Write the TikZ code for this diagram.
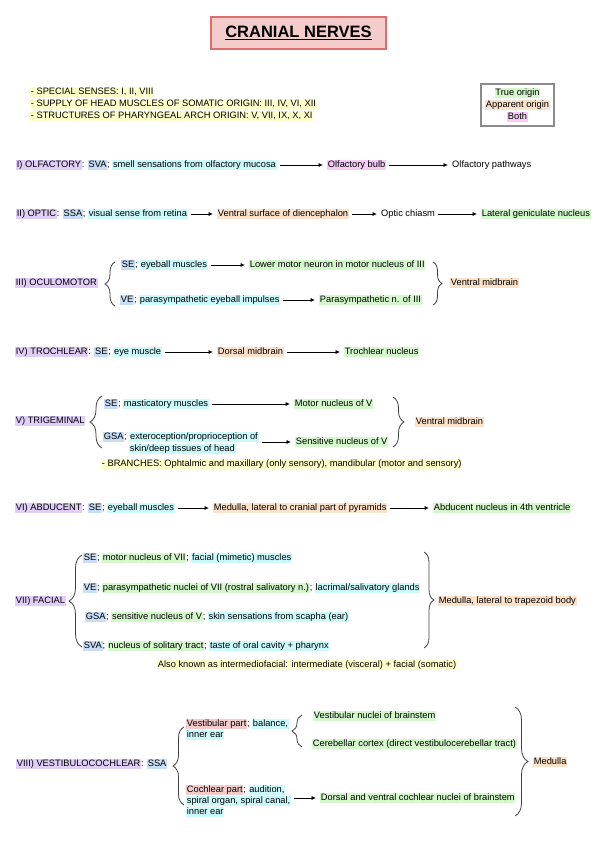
\documentclass[tikz,border=0pt]{standalone}
\usepackage{fontspec}
\setmainfont{Liberation Sans}
\usepackage{xcolor}
\usepackage{tikz}
\usetikzlibrary{arrows.meta,decorations.pathreplacing}
\definecolor{nervepu}{RGB}{224,206,248}
\definecolor{bothpk}{RGB}{245,204,245}
\definecolor{typebl}{RGB}{200,222,246}
\definecolor{funccy}{RGB}{204,250,252}
\definecolor{truegr}{RGB}{212,248,204}
\definecolor{apporg}{RGB}{252,226,202}
\definecolor{noteyl}{RGB}{255,255,204}
\definecolor{partrd}{RGB}{244,204,204}
\definecolor{titlebd}{RGB}{220,110,110}
\newcommand{\hlbox}[2]{{\setlength{\fboxsep}{0.7pt}\colorbox{#1}{\rule[-1.9pt]{0pt}{8.6pt}#2}}}
\newcommand{\titleul}[1]{\setbox0\hbox{#1}\rlap{\rule[-2.8pt]{\wd0}{1.6pt}}\box0}

\begin{document}
\begin{tikzpicture}[x=1pt,y=-1pt,
    every node/.style={font=\fontsize{9.3}{11.5}\selectfont,inner sep=0pt},
    ln/.style={anchor=west,text height=7.4pt,text depth=2.6pt},
    arr/.style={-{Latex[length=4.5pt,width=4.2pt]},line width=0.8pt,shorten <=3pt,shorten >=4pt},
    brc/.style={decorate,decoration={brace,amplitude=#1},line width=0.8pt,draw=black!75}]

    \useasboundingbox (0,0) rectangle (600,848);

    % Title
    \node[draw=titlebd,fill=partrd,line width=1.5pt,minimum width=175pt,minimum height=32pt,
      text height=11.9pt,text depth=3pt,font=\fontsize{16.5}{18}\selectfont\bfseries]
      (title) at (298.5,33) {\titleul{CRANIAL NERVES}};

    % General notes
    \node[ln] (note1) at (30,92) {\hlbox{noteyl}{- SPECIAL SENSES: I, II, VIII}};
    \node[ln] (note2) at (30,104) {\hlbox{noteyl}{- SUPPLY OF HEAD MUSCLES OF SOMATIC ORIGIN: III, IV, VI, XII}};
    \node[ln] (note3) at (30,116) {\hlbox{noteyl}{- STRUCTURES OF PHARYNGEAL ARCH ORIGIN: V, VII, IX, X, XI}};

    % Legend
    \node[draw=black!45,line width=1.2pt,fill=white,minimum width=73pt,minimum height=42pt] (legend) at (517.5,105) {};
    \node[text height=7.4pt,text depth=2.6pt] (lgtrue) at (517.5,93) {\hlbox{truegr}{True origin}};
    \node[text height=7.4pt,text depth=2.6pt] (lgapp) at (517.5,105) {\hlbox{apporg}{Apparent origin}};
    \node[text height=7.4pt,text depth=2.6pt] (lgboth) at (517.5,117) {\hlbox{bothpk}{Both}};

    % I) Olfactory
    \node[ln] (olf) at (16,165) {\hlbox{nervepu}{I) OLFACTORY}: \hlbox{typebl}{SVA}; \hlbox{funccy}{smell sensations from olfactory mucosa}};
    \node[ln] (olfbulb) at (327,165) {\hlbox{bothpk}{Olfactory bulb}};
    \node[ln] (olfpath) at (452,165) {Olfactory pathways};
    \draw[arr] (olf) -- (olfbulb);
    \draw[arr] (olfbulb) -- (olfpath);

    % II) Optic
    \node[ln] (opt) at (16,214) {\hlbox{nervepu}{II) OPTIC}: \hlbox{typebl}{SSA}; \hlbox{funccy}{visual sense from retina}};
    \node[ln] (optvs) at (217,214) {\hlbox{apporg}{Ventral surface of diencephalon}};
    \node[ln] (optch) at (381,214) {Optic chiasm};
    \node[ln] (optlgn) at (481,214) {\hlbox{truegr}{Lateral geniculate nucleus}};
    \draw[arr] (opt) -- (optvs);
    \draw[arr] (optvs) -- (optch);
    \draw[arr] (optch) -- (optlgn);

    % III) Oculomotor
    \node[ln] (ocu) at (15,283) {\hlbox{nervepu}{III) OCULOMOTOR}};
    \draw[brc=10pt] (115,306) -- (115,262);
    \node[ln] (ocuse) at (121,265) {\hlbox{typebl}{SE}; \hlbox{funccy}{eyeball muscles}};
    \node[ln] (ocusen) at (249,265) {\hlbox{truegr}{Lower motor neuron in motor nucleus of III}};
    \node[ln] (ocuve) at (120,300) {\hlbox{typebl}{VE}; \hlbox{funccy}{parasympathetic eyeball impulses}};
    \node[ln] (ocuven) at (319,300) {\hlbox{truegr}{Parasympathetic n. of III}};
    \draw[arr] (ocuse) -- (ocusen);
    \draw[arr] (ocuve) -- (ocuven);
    \draw[brc=9pt] (433,262) -- (433,305);
    \node[ln] (ocuvm) at (450,283) {\hlbox{apporg}{Ventral midbrain}};

    % IV) Trochlear
    \node[ln] (tro) at (15,352) {\hlbox{nervepu}{IV) TROCHLEAR}: \hlbox{typebl}{SE}; \hlbox{funccy}{eye muscle}};
    \node[ln] (trodm) at (217,352) {\hlbox{apporg}{Dorsal midbrain}};
    \node[ln] (tron) at (344,352) {\hlbox{truegr}{Trochlear nucleus}};
    \draw[arr] (tro) -- (trodm);
    \draw[arr] (trodm) -- (tron);

    % V) Trigeminal
    \node[ln] (tri) at (15,421) {\hlbox{nervepu}{V) TRIGEMINAL}};
    \draw[brc=12pt] (102,448) -- (102,396);
    \node[ln] (trise) at (104,404) {\hlbox{typebl}{SE}; \hlbox{funccy}{masticatory muscles}};
    \node[ln] (trimn) at (294,404) {\hlbox{truegr}{Motor nucleus of V}};
    \node[ln] (trigsa) at (103,437) {\hlbox{typebl}{GSA}; \hlbox{funccy}{exteroception/proprioception of}};
    \node[ln] (trigsb) at (129,449) {\hlbox{funccy}{skin/deep tissues of head}};
    \node[ln] (trisn) at (295,442) {\hlbox{truegr}{Sensitive nucleus of V}};
    \draw[arr] (trise) -- (trimn);
    \draw[arr] (trigsa.east |- trisn.west) -- (trisn.west);
    \draw[brc=11pt] (393,397) -- (393,447);
    \node[ln] (trivm) at (415,422) {\hlbox{apporg}{Ventral midbrain}};
    \node[ln] (tribr) at (101,464) {\hlbox{noteyl}{- BRANCHES: Ophtalmic and maxillary (only sensory), mandibular (motor and sensory)}};

    % VI) Abducent
    \node[ln] (abd) at (15,508) {\hlbox{nervepu}{VI) ABDUCENT}: \hlbox{typebl}{SE}; \hlbox{funccy}{eyeball muscles}};
    \node[ln] (abdmed) at (213,508) {\hlbox{apporg}{Medulla, lateral to cranial part of pyramids}};
    \node[ln] (abdn) at (433,508) {\hlbox{truegr}{Abducent nucleus in 4th ventricle}};
    \draw[arr] (abd) -- (abdmed);
    \draw[arr] (abdmed) -- (abdn);

    % VII) Facial
    \node[ln] (fac) at (15,601) {\hlbox{nervepu}{VII) FACIAL}};
    \draw[brc=13pt] (82,647) -- (82,555);
    \node[ln] (facse) at (83,558) {\hlbox{typebl}{SE}; \hlbox{truegr}{motor nucleus of VII}; \hlbox{funccy}{facial (mimetic) muscles}};
    \node[ln] (facve) at (83,588) {\hlbox{typebl}{VE}; \hlbox{truegr}{parasympathetic nuclei of VII (rostral salivatory n.)}; \hlbox{funccy}{lacrimal/salivatory glands}};
    \node[ln] (facgsa) at (85,617) {\hlbox{typebl}{GSA}; \hlbox{truegr}{sensitive nucleus of V}; \hlbox{funccy}{skin sensations from scapha (ear)}};
    \node[ln] (facsva) at (83,646) {\hlbox{typebl}{SVA}; \hlbox{truegr}{nucleus of solitary tract}; \hlbox{funccy}{taste of oral cavity + pharynx}};
    \draw[brc=10pt] (424,552) -- (424,648);
    \node[ln] (facmed) at (438,601) {\hlbox{apporg}{Medulla, lateral to trapezoid body}};
    \node[text height=7.4pt,text depth=2.6pt] (facaka) at (307,665) {\hlbox{noteyl}{Also known as intermediofacial: intermediate (visceral) + facial (somatic)}};

    % VIII) Vestibulocochlear
    \node[ln] (vc) at (16,764) {\hlbox{nervepu}{VIII) VESTIBULOCOCHLEAR}: \hlbox{typebl}{SSA}};
    \draw[brc=11pt] (184,805) -- (184,727);
    \node[ln] (vcvest) at (186,724) {\hlbox{partrd}{Vestibular part}; \hlbox{funccy}{balance,}};
    \node[ln] (vcvestb) at (186,735) {\hlbox{funccy}{inner ear}};
    \draw[brc=10pt] (302,747) -- (302,715);
    \node[ln] (vcvn) at (313,716) {\hlbox{truegr}{Vestibular nuclei of brainstem}};
    \node[ln] (vccc) at (312,744) {\hlbox{truegr}{Cerebellar cortex (direct vestibulocerebellar tract)}};
    \node[ln] (vccoch) at (186,790) {\hlbox{partrd}{Cochlear part}; \hlbox{funccy}{audition,}};
    \node[ln] (vccochb) at (186,801) {\hlbox{funccy}{spiral organ, spiral canal,}};
    \node[ln] (vccochc) at (186,812) {\hlbox{funccy}{inner ear}};
    \node[ln] (vcdv) at (320,798) {\hlbox{truegr}{Dorsal and ventral cochlear nuclei of brainstem}};
    \draw[arr] (vccochb.east |- vcdv.west) -- (vcdv.west);
    \draw[brc=13pt] (515,707) -- (515,816);
    \node[ln] (vcmed) at (533,762) {\hlbox{apporg}{Medulla}};

\end{tikzpicture}
\end{document}
